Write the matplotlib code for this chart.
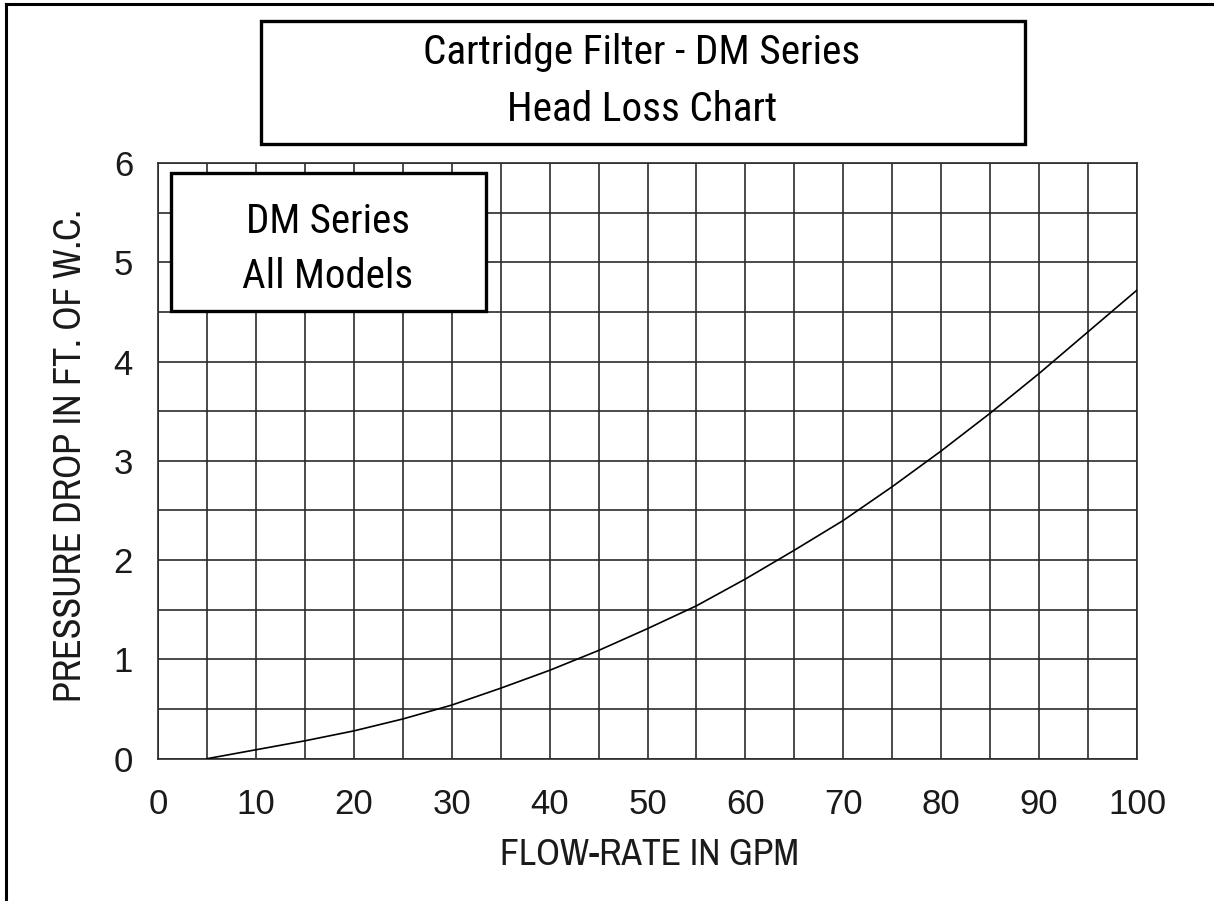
import numpy as np
import matplotlib
matplotlib.use("Agg")
import matplotlib.pyplot as plt
from matplotlib.patches import Rectangle
from matplotlib.lines import Line2D

# ---- data ----
flow_gpm = [5, 10, 15, 20, 25, 30, 35, 40, 45, 50, 55, 60, 65, 70, 75, 80, 85, 90, 95, 100]
drop_ft = [0.0, 0.09, 0.18, 0.28, 0.40, 0.54, 0.71, 0.89, 1.09, 1.31, 1.54, 1.81,
           2.10, 2.40, 2.74, 3.10, 3.48, 3.88, 4.30, 4.72]
x_ticks = [0, 10, 20, 30, 40, 50, 60, 70, 80, 90, 100]
y_ticks = [0, 1, 2, 3, 4, 5, 6]
title_lines = ["Cartridge Filter - DM Series", "Head Loss Chart"]
inset_lines = ["DM Series", "All Models"]
x_label = "FLOW-RATE IN GPM"
y_label = "PRESSURE DROP IN FT. OF W.C."

COND = ["Roboto Condensed", "Archivo Narrow", "Liberation Sans", "DejaVu Sans"]
NARROW = ["Archivo Narrow", "Roboto Condensed", "Liberation Sans", "DejaVu Sans"]
SANS = ["Liberation Sans", "DejaVu Sans"]

W, H = 1214, 901
fig = plt.figure(figsize=(W / 100, H / 100), dpi=100)
fig.patch.set_facecolor("white")

def fx(px):
    return px / W

def fy(py):
    return 1 - py / H

L, R, T, B = 158, 1137, 163, 758.7
ax = fig.add_axes([fx(L), fy(B), (R - L) / W, (B - T) / H])
ax.set_xlim(0, 100)
ax.set_ylim(0, 6)
ax.set_xticks(x_ticks)
ax.set_xticks(np.arange(0, 101, 5), minor=True)
ax.set_yticks(y_ticks)
ax.set_yticks(np.arange(0, 6.01, 0.5), minor=True)
ax.set_xticklabels([str(v) for v in x_ticks], family=SANS, fontsize=25)
ax.set_yticklabels([str(v) for v in y_ticks], family=SANS, fontsize=25)
ax.tick_params(which="both", length=0)
ax.tick_params(axis="x", pad=21, colors="#1a1a1a")
ax.tick_params(axis="y", pad=18, colors="#1a1a1a")
ax.grid(which="both", color="#2b2b2b", lw=1.2)
ax.set_axisbelow(True)
for s in ax.spines.values():
    s.set_color("#2b2b2b")
    s.set_linewidth(1.2)

ax.plot(flow_gpm, drop_ft, color="black", lw=1.2, zorder=3)

# axis labels
fig.text(fx(649), fy(865), x_label, ha="center", va="baseline",
         family=NARROW, fontsize=27, color="#1a1a1a")
fig.text(fx(71), fy(456), y_label, ha="center", va="center", rotation=90,
         family=NARROW, fontsize=27.3, color="#1a1a1a")

# title box
fig.add_artist(Rectangle((fx(261), fy(144)), (1025 - 261) / W, (144 - 21) / H,
                         transform=fig.transFigure, facecolor="white",
                         edgecolor="black", lw=2.4, zorder=2))
fig.text(fx(642), fy(64), title_lines[0], ha="center", va="baseline",
         family=COND, fontsize=29.8, color="black", zorder=3)
fig.text(fx(642), fy(121), title_lines[1], ha="center", va="baseline",
         family=COND, fontsize=29.8, color="black", zorder=3)

# inset box
fig.add_artist(Rectangle((fx(171), fy(311)), (486 - 171) / W, (311 - 173) / H,
                         transform=fig.transFigure, facecolor="white",
                         edgecolor="black", lw=2.4, zorder=2))
fig.text(fx(328), fy(233), inset_lines[0], ha="center", va="baseline",
         family=COND, fontsize=29.5, color="black", zorder=3)
fig.text(fx(328), fy(288), inset_lines[1], ha="center", va="baseline",
         family=COND, fontsize=29.5, color="black", zorder=3)

# outer frame (top and left)
fig.add_artist(Line2D([fx(6), 1.0], [fy(4), fy(4)], transform=fig.transFigure,
                      color="black", lw=2.2))
fig.add_artist(Line2D([fx(6), fx(6)], [0.0, fy(4)], transform=fig.transFigure,
                      color="black", lw=2.2))

fig.savefig("out.png", dpi=100, facecolor="white")
